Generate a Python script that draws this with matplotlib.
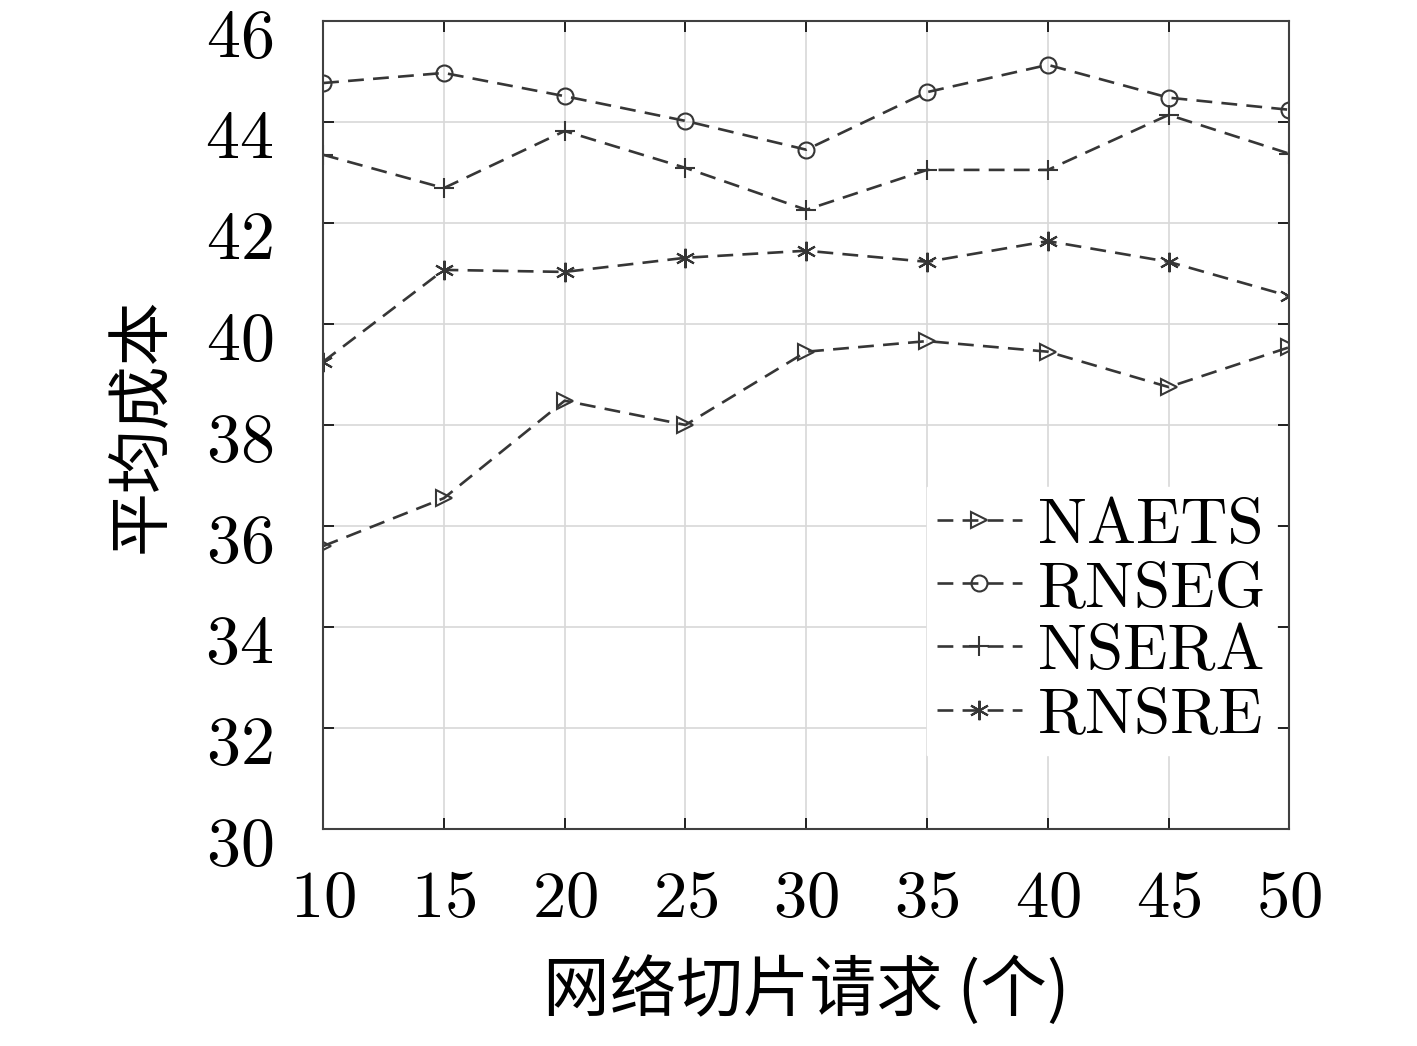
import matplotlib
matplotlib.use('Agg')
import matplotlib.pyplot as plt
import matplotlib.transforms as mtransforms

# 数据
requests = [10, 15, 20, 25, 30, 35, 40, 45, 50]
naets = [35.6, 36.55, 38.48, 38.0, 39.45, 39.66, 39.45, 38.75, 39.54]
rnseg = [44.77, 44.97, 44.51, 44.02, 43.45, 44.59, 45.13, 44.48, 44.24]
nsera = [43.35, 42.69, 43.82, 43.09, 42.26, 43.05, 43.05, 44.14, 43.37]
rnsre = [39.25, 41.07, 41.03, 41.31, 41.45, 41.23, 41.64, 41.23, 40.55]
yticks = [30, 32, 34, 36, 38, 40, 42, 44, 46]

plt.rcParams['mathtext.fontset'] = 'cm'
plt.rcParams['axes.formatter.use_mathtext'] = True

fig = plt.figure(figsize=(14.17, 10.46), dpi=100)
ax = fig.add_axes([0.228, 0.2075, 0.682, 0.7725])

c = '#363636'
style = dict(color=c, linestyle=(0, (6, 3.5)), linewidth=1.9, markersize=11.5,
             markerfacecolor='none', markeredgecolor=c, markeredgewidth=1.5)
ax.plot(requests, naets, marker='>', label='NAETS', **style)
ax.plot(requests, rnseg, marker='o', label='RNSEG', **style)
ax.plot(requests, nsera, marker='+', label='NSERA', **{**style, 'markersize': 15})
ax.plot(requests, rnsre, marker=(6, 2, 0), label='RNSRE', **{**style, 'markersize': 14})

ax.set_xlim(10, 50)
ax.set_ylim(30, 46)
ax.set_xticks(requests)
ax.set_yticks(yticks)
ax.set_xticklabels([f'${v}$' for v in requests], fontsize=48)
ax.set_yticklabels([f'${v}$' for v in yticks], fontsize=49)
ax.tick_params(direction='in', length=8, width=1.2, top=True, right=True, colors='black')
ax.tick_params(axis='x', pad=26)
ax.tick_params(axis='y', pad=36)
ax.grid(True, color='#d8d8d8', linewidth=1.2)
for s in ax.spines.values():
    s.set_color('#404040')
    s.set_linewidth(1.5)

# y 轴刻度标签略微下移
shift = mtransforms.ScaledTranslation(0, -7 / 72, fig.dpi_scale_trans)
for lbl in ax.get_yticklabels():
    lbl.set_transform(lbl.get_transform() + shift)

ax.set_xlabel('网络切片请求 (个)', fontsize=48, family=['Noto Sans CJK SC', 'DejaVu Sans'], labelpad=18)
ax.set_ylabel('平均成本', fontsize=46, family=['Noto Sans CJK SC', 'DejaVu Sans'], labelpad=22)

leg = ax.legend(loc='lower right', bbox_to_anchor=(1.0, 0.075), frameon=True, fancybox=False,
                edgecolor='white', facecolor='white', framealpha=1,
                prop={'family': 'cmr10', 'size': 47}, handlelength=1.3, handletextpad=0.25,
                labelspacing=0.07, borderpad=0.15, borderaxespad=0.2)

fig.savefig('out.png', dpi=100)
